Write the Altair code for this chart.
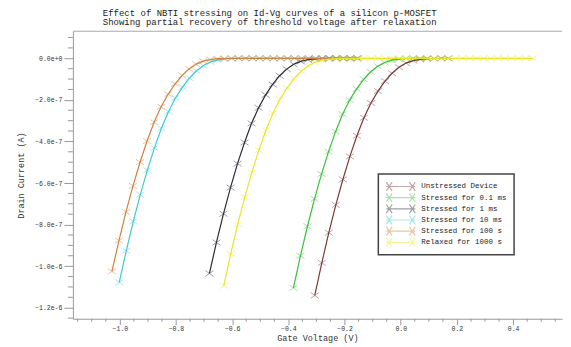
import altair as alt
import pandas as pd

# ---- data (Gate voltage in V, drain current in microamps) ----
series_names = ["Unstressed Device", "Stressed for 0.1 ms", "Stressed for 1 ms",
                "Stressed for 10 ms", "Stressed for 100 s", "Relaxed for 1000 s"]
series_colors = ["#7a3a3a", "#3cbf3c", "#2d2d38", "#3ec9d4", "#d2823e", "#e6e62a"]

vg_unstressed = [-0.306, -0.281, -0.256, -0.231, -0.206, -0.181, -0.156, -0.131, -0.106, -0.081,
                 -0.056, -0.031, -0.006, 0.019, 0.044, 0.069, 0.094, 0.119, 0.144, 0.169]
id_unstressed = [-1.141, -0.984, -0.839, -0.705, -0.583, -0.472, -0.373, -0.286, -0.215, -0.158,
                 -0.110, -0.072, -0.043, -0.023, -0.011, -0.005, -0.002, -0.001, 0.0, 0.0]

vg_01ms = [-0.382, -0.357, -0.332, -0.307, -0.282, -0.257, -0.232, -0.207, -0.182, -0.157,
           -0.132, -0.107, -0.082, -0.057, -0.032, -0.007, 0.018, 0.043, 0.068, 0.093]
id_01ms = [-1.105, -0.950, -0.808, -0.676, -0.557, -0.449, -0.353, -0.269, -0.201, -0.147,
           -0.101, -0.065, -0.038, -0.020, -0.009, -0.004, -0.001, 0.0, 0.0, 0.0]

vg_1ms = [-0.681, -0.656, -0.631, -0.606, -0.581, -0.556, -0.531, -0.506, -0.481, -0.456,
          -0.431, -0.406, -0.381, -0.356, -0.331, -0.306, -0.281, -0.256, -0.231, -0.206,
          -0.181, -0.156]
id_1ms = [-1.035, -0.886, -0.748, -0.622, -0.507, -0.405, -0.313, -0.238, -0.176, -0.126,
          -0.084, -0.052, -0.029, -0.015, -0.007, -0.003, -0.001, 0.0, 0.0, 0.0,
          0.0, 0.0]

vg_10ms = [-1.002, -0.977, -0.952, -0.927, -0.902, -0.877, -0.852, -0.827, -0.802, -0.777,
           -0.752, -0.727, -0.702, -0.677, -0.652, -0.627, -0.602, -0.577, -0.552, -0.527,
           -0.502, -0.477, -0.452, -0.427, -0.402, -0.377, -0.352, -0.327, -0.302, -0.277,
           -0.252, -0.227, -0.202, -0.177, -0.152]
id_10ms = [-1.078, -0.926, -0.785, -0.656, -0.538, -0.432, -0.337, -0.257, -0.191, -0.139,
           -0.095, -0.060, -0.035, -0.018, -0.008, -0.003, -0.001, 0.0, 0.0, 0.0,
           0.0, 0.0, 0.0, 0.0, 0.0, 0.0, 0.0, 0.0, 0.0, 0.0,
           0.0, 0.0, 0.0, 0.0, 0.0]

vg_100s = [-1.028, -1.003, -0.978, -0.953, -0.928, -0.903, -0.878, -0.853, -0.828, -0.803,
           -0.778, -0.753, -0.728, -0.703, -0.678, -0.653, -0.628, -0.603, -0.578, -0.553,
           -0.528, -0.503, -0.478, -0.453, -0.428, -0.403, -0.378, -0.353, -0.328, -0.303,
           -0.278, -0.253, -0.228, -0.203, -0.178, -0.153]
id_100s = [-1.025, -0.877, -0.739, -0.614, -0.500, -0.398, -0.308, -0.233, -0.173, -0.123,
           -0.082, -0.051, -0.028, -0.014, -0.006, -0.002, -0.001, 0.0, 0.0, 0.0,
           0.0, 0.0, 0.0, 0.0, 0.0, 0.0, 0.0, 0.0, 0.0, 0.0,
           0.0, 0.0, 0.0, 0.0, 0.0, 0.0]

vg_relaxed = [-0.630, -0.605, -0.580, -0.555, -0.530, -0.505, -0.480, -0.455, -0.430, -0.405,
              -0.380, -0.355, -0.330, -0.305, -0.280, -0.255, -0.230, -0.205, -0.180, -0.155,
              -0.130, -0.105, -0.080, -0.055, -0.030, -0.005, 0.020, 0.045, 0.070, 0.095,
              0.120, 0.145, 0.170, 0.195, 0.220, 0.245, 0.270, 0.295, 0.320, 0.345,
              0.370, 0.395, 0.420, 0.445, 0.470]
id_relaxed = [-1.094, -0.940, -0.798, -0.668, -0.549, -0.442, -0.346, -0.264, -0.197, -0.143,
              -0.098, -0.063, -0.037, -0.019, -0.009, -0.004, -0.001, 0.0, 0.0, 0.0,
              0.0, 0.0, 0.0, 0.0, 0.0, 0.0, 0.0, 0.0, 0.0, 0.0,
              0.0, 0.0, 0.0, 0.0, 0.0, 0.0, 0.0, 0.0, 0.0, 0.0,
              0.0, 0.0, 0.0, 0.0, 0.0]

x_major_ticks = [-1.0, -0.8, -0.6, -0.4, -0.2, 0.0, 0.2, 0.4]
x_minor_ticks = [-1.15, -1.1, -1.05, -0.95, -0.9, -0.85, -0.75, -0.7, -0.65,
                 -0.55, -0.5, -0.45, -0.35, -0.3, -0.25, -0.15, -0.1, -0.05,
                 0.05, 0.1, 0.15, 0.25, 0.3, 0.35, 0.45, 0.5, 0.55]
y_major_ticks = [-1.2e-6, -1.0e-6, -8.0e-7, -6.0e-7, -4.0e-7, -2.0e-7, 0.0]
y_minor_ticks = [-1.25e-6, -1.15e-6, -1.1e-6, -1.05e-6, -9.5e-7, -9.0e-7, -8.5e-7,
                 -7.5e-7, -7.0e-7, -6.5e-7, -5.5e-7, -5.0e-7, -4.5e-7, -3.5e-7, -3.0e-7,
                 -2.5e-7, -1.5e-7, -1.0e-7, -5.0e-8, 5.0e-8, 1.0e-7]

curves = [
    (series_names[0], vg_unstressed, id_unstressed),
    (series_names[1], vg_01ms, id_01ms),
    (series_names[2], vg_1ms, id_1ms),
    (series_names[3], vg_10ms, id_10ms),
    (series_names[4], vg_100s, id_100s),
    (series_names[5], vg_relaxed, id_relaxed),
]
rows = []
for order, (name, vgs, ids) in enumerate(curves):
    for v, i in zip(vgs, ids):
        rows.append({"series": name, "order": order, "vg": v, "id": i * 1e-6})
df = pd.DataFrame(rows)

FONT = "Liberation Mono"
W, H = 490, 288
AX = "#999"

x_scale = alt.Scale(domain=[-1.167, 0.574], nice=False, zero=False)
y_scale = alt.Scale(domain=[-1.253e-6, 0.13e-6], nice=False, zero=False)

x_enc = alt.X("vg:Q", scale=x_scale,
              axis=alt.Axis(
                  title="Gate Voltage (V)", values=x_major_ticks, format=".1f",
                  tickSize=6, labelOverlap=False, labelFlush=False, grid=False,
                  labelFont=FONT, labelFontSize=6.5, labelColor="#333", labelPadding=1,
                  titleFont=FONT, titleFontSize=8.5, titleFontWeight="normal", titleColor="#333",
                  titlePadding=1, domainColor=AX, tickColor=AX))
y_enc = alt.Y("id:Q", scale=y_scale,
              axis=alt.Axis(
                  title="Drain Current (A)", values=y_major_ticks, format=".1e",
                  tickSize=9, labelOverlap=False, labelFlush=False, grid=False,
                  labelFont=FONT, labelFontSize=6.5, labelColor="#333", labelPadding=2,
                  titleFont=FONT, titleFontSize=8.5, titleFontWeight="normal", titleColor="#333",
                  titlePadding=9, domainColor=AX, tickColor=AX))

color_scale = alt.Scale(domain=series_names, range=series_colors)

legend_symbol = ("M-1,0L1,0M-1,-0.3L-0.6,0.3M-1,0.3L-0.6,-0.3"
                 "M0.6,-0.3L1,0.3M0.6,0.3L1,-0.3")

color_legend = alt.Legend(
    title=None, orient="none", legendX=306, legendY=143,
    symbolType=legend_symbol, symbolSize=841, symbolStrokeWidth=1.2,
    clipHeight=11, rowPadding=0.2, padding=7,
    fillColor="white", strokeColor="#444",
    labelFont=FONT, labelFontSize=7.5, labelColor="#222",
    labelOffset=5, labelExpr="datum.label + '\u00a0\u00a0\u00a0'")

lines = alt.Chart(df).mark_line(strokeWidth=1.2).encode(
    x=x_enc, y=y_enc,
    color=alt.Color("series:N", scale=color_scale, sort=series_names, legend=color_legend),
    order=alt.Order("vg:Q"),
    detail="series:N",
)

points = alt.Chart(df).mark_point(
    shape="M-1,-0.7L1,0.7M-1,0.7L1,-0.7", size=64, filled=False,
    strokeWidth=1, opacity=0.45).encode(
    x="vg:Q", y="id:Q",
    color=alt.Color("series:N", scale=color_scale, sort=series_names, legend=color_legend),
)

x_minor = alt.Chart(pd.DataFrame({"t": x_minor_ticks})).mark_rule(color=AX, strokeWidth=1).encode(
    x=alt.X("t:Q", scale=x_scale), y=alt.value(H), y2=alt.value(H + 3))
y_minor = alt.Chart(pd.DataFrame({"t": y_minor_ticks})).mark_rule(color=AX, strokeWidth=1).encode(
    y=alt.Y("t:Q", scale=y_scale), x=alt.value(-5), x2=alt.value(0))

top_border = alt.Chart(pd.DataFrame({"v": [0]})).mark_rule(color="#aaa", strokeWidth=1).encode(
    x=alt.value(0), x2=alt.value(W), y=alt.value(0))

chart = alt.layer(points, lines, x_minor, y_minor, top_border).properties(
    width=W, height=H,
    padding={"left": 8, "top": 0, "right": 0, "bottom": 3},
    title=alt.TitleParams(
        text=["Effect of NBTI stressing on Id-Vg curves of a silicon p-MOSFET",
              "Showing partial recovery of threshold voltage after relaxation"],
        font=FONT, fontSize=9, fontWeight="normal", color="#222",
        anchor="start", frame="group", dx=30, offset=4, lineHeight=9),
).configure_view(stroke=None).configure_legend(strokeWidth=1.5, cornerRadius=0)

chart.save("out.html", embed_options={"renderer": "svg", "actions": False})
